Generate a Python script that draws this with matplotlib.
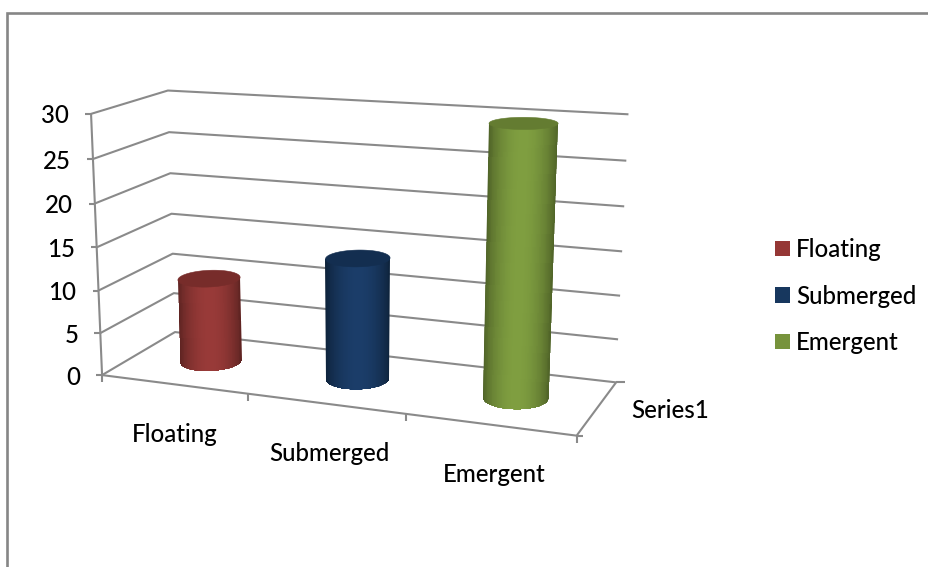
import numpy as np
import matplotlib
matplotlib.use('Agg')
import matplotlib.pyplot as plt
from matplotlib.colors import LinearSegmentedColormap
from matplotlib.patches import Patch, Polygon

categories = ['Floating', 'Submerged', 'Emergent']
values = [10, 14, 30]
y_ticks = [0, 5, 10, 15, 20, 25, 30]
series_name = 'Series1'

bar_colors = ['#953735', '#17375E', '#77933C']
edge_colors = ['#5A2220', '#0D2138', '#4C5F26']
mid_colors = ['#983A38', '#1B3D69', '#7F9E40']
cap_colors = ['#772C2A', '#132E50', '#647C31']
grid_color = '#8A8A8A'
y_max = 30

plt.rcParams['font.family'] = ['Lato', 'DejaVu Sans']
plt.rcParams['font.size'] = 17.3
plt.rcParams['font.weight'] = 'medium'

# camera for the 3d box: (across, depth, height) -> canvas pixels, least squares
# the front left corner is listed three times so the axis origin stays put
box_points = [
    (0, 0, 0, 103, 376), (0, 0, 0, 103, 376), (0, 0, 0, 103, 376),
    (0, 0, 1, 91.7, 113), (0, 1, 0, 175, 332), (0, 1, 1, 167, 89),
    (1, 1, 0, 616, 381.7), (1, 1, 1, 628, 117), (1, 0, 0, 581, 433),
    (1/3, 0, 0, 246, 395), (2/3, 0, 0, 400, 413), (1, 1, 0.5, 623, 252), (0, 1, 0.5, 172, 213),
]
rows, rhs = [], []
for x, d, h, px, py in box_points:
    rows.append([x, d, h, 1, 0, 0, 0, 0, -px*x, -px*d, -px*h])
    rhs.append(px)
    rows.append([0, 0, 0, 0, x, d, h, 1, -py*x, -py*d, -py*h])
    rhs.append(py)
cam = np.linalg.lstsq(np.array(rows, float), np.array(rhs, float), rcond=None)[0]
cam = np.append(cam, 1).reshape(3, 4)


def project(x, d, v):
    x, d, v = np.broadcast_arrays(x, d, np.asarray(v, float) / y_max)
    pts = np.stack([x, d, v, np.ones_like(x)], axis=-1) @ cam.T
    return pts[..., 0] / pts[..., 2], pts[..., 1] / pts[..., 2]


def lower_arc(xs, ys):
    # part of a ring between its left and right extremes that faces the viewer
    lo, hi = xs.argmin(), xs.argmax()
    idx = (lo + np.arange(len(xs))) % len(xs)
    stop = (hi - lo) % len(xs)
    first, second = idx[:stop + 1], idx[stop:]
    if ys[first].mean() > ys[second].mean():
        return xs[first], ys[first]
    return xs[second][::-1], ys[second][::-1]


fig = plt.figure(figsize=(9.29, 5.67), dpi=100)
ax = fig.add_axes([0, 0, 1, 1])
ax.set_xlim(0, 929)
ax.set_ylim(567, 0)
ax.axis('off')

# chart area border, only top and left are in frame
ax.plot([7.3, 7.3, 929], [567, 13.3, 13.3], color='#868686', lw=1.9, solid_joinstyle='miter')

line = dict(color=grid_color, lw=1.5, solid_capstyle='butt')

# walls
for v in y_ticks:
    xs, ys = project([0, 0, 1], [0, 1, 1], v)
    ax.plot(xs, ys, **line)
    tx, ty = project(0, 0, v)
    ax.plot([tx - 6, tx], [ty, ty], **line)
    ax.text(tx - 22, ty + 2, str(v), ha='right', va='center')

# value axis, floor edges and tick marks
xs, ys = project([0, 0], [0, 0], [0, y_max])
ax.plot(xs, ys, **line)
xs, ys = project([0, 1, 1], [0, 0, 1], 0)
ax.plot(xs, ys, **line)
for x in [0, 1/3, 2/3, 1]:
    tx, ty = project(x, 0, 0)
    ax.plot([tx, tx], [ty, ty + 7], **line)
tx, ty = project(1, 0, 0)
ax.plot([tx, tx + 6], [ty, ty], **line)
tx, ty = project(1, 1, 0)
ax.plot([tx, tx + 9], [ty, ty], **line)

# cylinders
radius_x = 0.064
radius_d = 0.21
angles = np.linspace(0, 2 * np.pi, 240, endpoint=False)
across = np.linspace(0, 1, 80)
label_shift = [1, 4, 5]
for i, (name, val) in enumerate(zip(categories, values)):
    xc = (i + 0.5) / len(categories) + 0.004
    cx = xc + radius_x * np.cos(angles)
    cd = 0.5 + radius_d * np.sin(angles)
    bx, by = project(cx, cd, 0)
    tx, ty = project(cx, cd, val)

    # side wall, shaded across its width and clipped to the outline
    arc_x, arc_y = lower_arc(bx, by)
    outline = np.vstack([np.column_stack([arc_x, arc_y]),
                         [[tx.max(), ty[tx.argmax()]], [tx.min(), ty[tx.argmin()]]]])
    row_y = np.array([ty.min() - 2, by.max() + 2])
    s = (row_y - ty.mean()) / (by.mean() - ty.mean())
    lefts = tx.min() + s * (bx.min() - tx.min())
    widths = (tx.max() - tx.min()) + s * ((bx.max() - bx.min()) - (tx.max() - tx.min()))
    mesh_x = lefts[:, None] + widths[:, None] * across
    mesh_y = np.repeat(row_y[:, None], len(across), axis=1)
    shade = np.sin(np.pi * across) ** 0.7
    cmap = LinearSegmentedColormap.from_list('side', [edge_colors[i], mid_colors[i]])
    mesh = ax.pcolormesh(mesh_x, mesh_y, shade[:-1][None, :], cmap=cmap, vmin=0, vmax=1, zorder=3 + i)
    clip = Polygon(outline, closed=True, transform=ax.transData)
    mesh.set_clip_path(clip)
    ax.fill(tx, ty, color=cap_colors[i], lw=0.4, zorder=3 + i)

    lx, ly = project((i + 0.5) / len(categories), 0, 0)
    ax.text(lx + label_shift[i], ly + 50, name, ha='center', va='center')

ax.text(631, 411, series_name, ha='left', va='center')

handles = [Patch(facecolor=c, edgecolor='none', label=n) for c, n in zip(bar_colors, categories)]
ax.legend(handles=handles, loc='center left', bbox_to_anchor=(775 / 929, 1 - 296 / 567), frameon=False,
          handlelength=0.625, handleheight=0.625, handletextpad=0.25, labelspacing=0.98, borderpad=0, borderaxespad=0)

fig.savefig('out.png', dpi=100)
